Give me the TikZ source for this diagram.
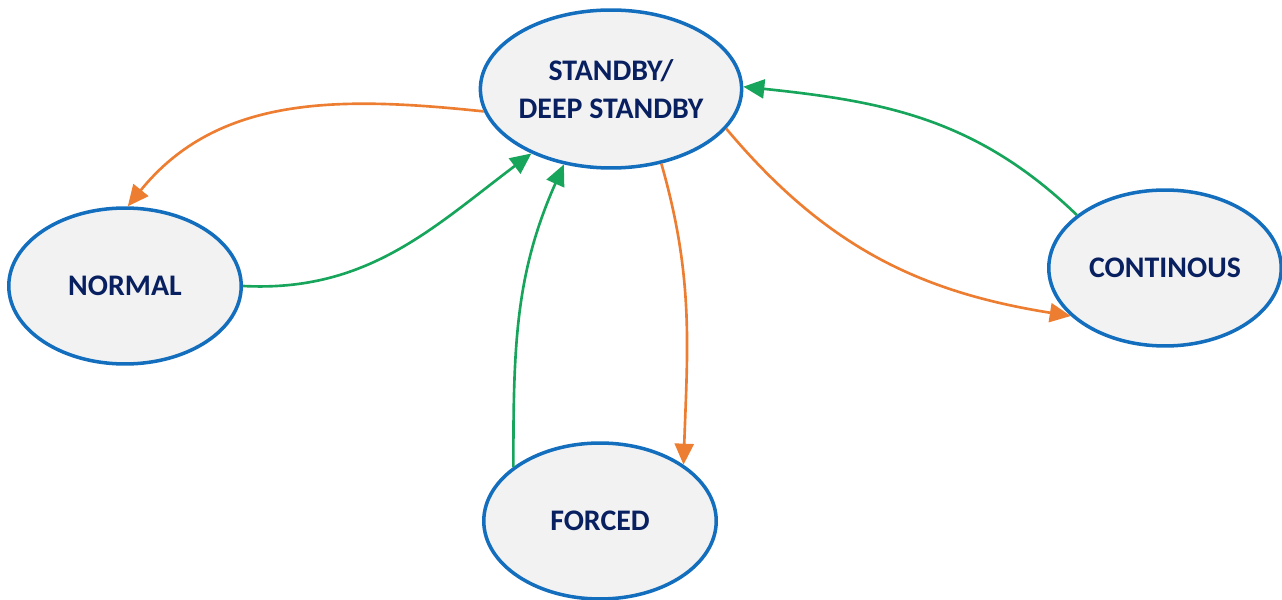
\documentclass[tikz,border=0pt]{standalone}
\usepackage{fontspec}
\setmainfont{Carlito}
\usepackage{tikz}
\usetikzlibrary{arrows.meta, shapes.geometric, positioning}
\definecolor{StateBorder}{RGB}{20,110,190}
\definecolor{StateFill}{RGB}{242,242,242}
\definecolor{StateText}{RGB}{8,32,96}
\definecolor{ToColor}{RGB}{237,125,49}
\definecolor{BackColor}{RGB}{22,165,90}
\tikzstyle{state} = [ellipse, draw=StateBorder, fill=StateFill, line width=2pt, minimum width=4.65cm, minimum height=3.12cm, inner sep=0pt, align=center, text=StateText, font=\fontsize{17}{22}\selectfont\bfseries]
\tikzstyle{arrow} = [line width=1.5pt, -{Triangle[length=0.42cm, width=0.38cm]}]

\begin{document}
\begin{tikzpicture}[x=0.02cm, y=0.02cm]
    \useasboundingbox (0,0) rectangle (1282,599);
    \node[state, minimum width=5.08cm, minimum height=3.16cm] (standby) at (611,510) {STANDBY/\\DEEP STANDBY};
    \node[state] (normal) at (125,313) {NORMAL};
    \node[state] (continous) at (1165,331) {CONTINOUS};
    \node[state] (forced) at (600,78) {FORCED};
    % standby -> modes
    \draw[arrow, ToColor] (standby.190) to[out=174, in=51] (normal.88);
    \draw[arrow, ToColor] (standby.304) to[out=-74, in=88] (forced.34);
    \draw[arrow, ToColor] (standby.341) to[out=-50, in=171] (continous.207);
    % modes -> standby
    \draw[arrow, BackColor] (normal.0) to[out=-3, in=217] (standby.219);
    \draw[arrow, BackColor] (forced.148) to[out=90, in=246] (standby.238);
    \draw[arrow, BackColor] (continous.149) to[out=136, in=354] (standby.1);
\end{tikzpicture}
\end{document}
